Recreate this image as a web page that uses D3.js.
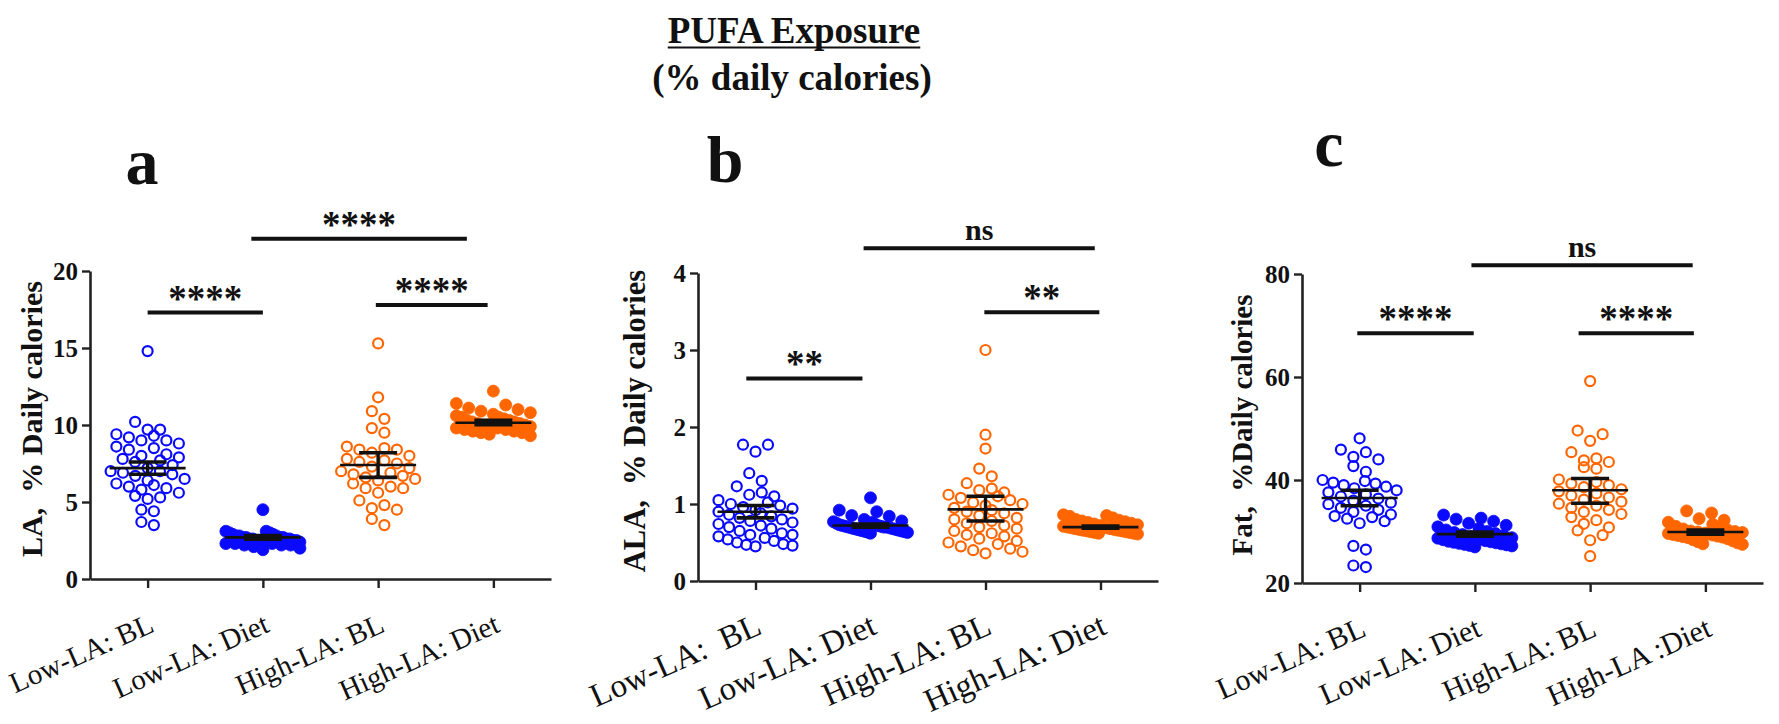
<!DOCTYPE html>
<html>
<head>
<meta charset="utf-8">
<script src="https://cdn.jsdelivr.net/npm/d3@7"></script>
<style>
  body { margin: 0; background: #fff; }
  svg text { font-family: "Liberation Serif", "Times New Roman", serif; fill: #111; }
</style>
</head>
<body>
<div id="chart"></div>
<script>
// ---- data ----
const groupsA = ["Low-LA: BL", "Low-LA: Diet", "High-LA: BL", "High-LA: Diet"];
const groupsB = ["Low-LA:  BL", "Low-LA: Diet", "High-LA: BL", "High-LA: Diet"];
const groupsC = ["Low-LA: BL", "Low-LA: Diet", "High-LA: BL", "High-LA :Diet"];

// LA, % daily calories
const laLowBL = [14.8, 10.2, 9.7, 9.7, 9.4, 9.3, 9.2, 9.0, 9.0, 8.8, 8.6, 8.5, 8.4, 8.1, 8.0, 7.9, 7.8, 7.7, 7.6, 7.4, 7.2,
  7.0, 7.0, 6.9, 6.8, 6.7, 6.5, 6.4, 6.2, 6.1, 6.0, 5.9, 5.8, 5.6, 5.4, 5.3, 5.2, 4.5, 4.4, 3.7, 3.5];
const laLowDiet = [4.5, 3.1, 3.1, 3.0, 3.0, 2.9, 2.9, 2.8, 2.8, 2.8, 2.7, 2.7, 2.7, 2.7, 2.6, 2.6, 2.6, 2.6, 2.5, 2.5,
  2.5, 2.4, 2.4, 2.4, 2.3, 2.3, 2.3, 2.2, 2.2, 2.2, 2.1, 2.0, 1.9];
const laHighBL = [15.3, 11.8, 10.9, 10.4, 9.8, 9.5, 8.6, 8.5, 8.4, 8.4, 8.2, 8.0, 7.8, 7.7, 7.6, 7.5, 7.3, 7.2, 7.0, 6.9,
  6.8, 6.7, 6.6, 6.5, 6.4, 6.2, 6.0, 5.9, 5.9, 5.6, 5.1, 4.8, 4.6, 4.5, 3.9, 3.5];
const laHighDiet = [12.2, 11.4, 11.3, 11.1, 11.0, 10.9, 10.8, 10.7, 10.6, 10.5, 10.5, 10.4, 10.3, 10.3, 10.2, 10.2, 10.1,
  10.1, 10.0, 10.0, 10.0, 9.9, 9.9, 9.8, 9.8, 9.7, 9.7, 9.6, 9.6, 9.5, 9.5, 9.4, 9.3];
const laMean = [7.2, 2.7, 7.4, 10.15];
const laLow = [6.8, 2.58, 6.6, 10.02];
const laHigh = [7.6, 2.82, 8.2, 10.3];

// ALA, % daily calories
const alaLowBL = [1.77, 1.77, 1.68, 1.4, 1.3, 1.23, 1.15, 1.12, 1.1, 1.05, 1.02, 1.0, 0.98, 0.96, 0.94, 0.92, 0.9, 0.88,
  0.86, 0.84, 0.82, 0.8, 0.78, 0.76, 0.74, 0.72, 0.7, 0.68, 0.65, 0.62, 0.6, 0.6, 0.58, 0.56, 0.54, 0.52, 0.5, 0.48, 0.47, 0.46, 0.45];
const alaLowDiet = [1.08, 0.92, 0.9, 0.85, 0.84, 0.8, 0.78, 0.77, 0.76, 0.75, 0.74, 0.73, 0.72, 0.72, 0.71, 0.71, 0.7,
  0.7, 0.7, 0.69, 0.69, 0.68, 0.68, 0.67, 0.67, 0.66, 0.66, 0.65, 0.65, 0.64, 0.64, 0.63, 0.63, 0.62];
const alaHighBL = [3.0, 1.9, 1.72, 1.46, 1.36, 1.27, 1.2, 1.18, 1.15, 1.12, 1.1, 1.08, 1.05, 1.02, 1.0, 0.98, 0.95, 0.92,
  0.9, 0.88, 0.85, 0.82, 0.8, 0.78, 0.75, 0.72, 0.7, 0.68, 0.65, 0.62, 0.6, 0.58, 0.55, 0.52, 0.5, 0.48, 0.45, 0.42, 0.4, 0.38, 0.36];
const alaHighDiet = [0.86, 0.85, 0.84, 0.82, 0.8, 0.79, 0.78, 0.77, 0.76, 0.75, 0.74, 0.73, 0.72, 0.71, 0.7, 0.7, 0.69,
  0.69, 0.68, 0.68, 0.67, 0.67, 0.66, 0.66, 0.65, 0.65, 0.64, 0.64, 0.63, 0.63, 0.62, 0.62, 0.61];
const alaMean = [0.9, 0.72, 0.93, 0.7];
const alaLow = [0.82, 0.7, 0.78, 0.685];
const alaHigh = [0.98, 0.74, 1.1, 0.715];

// Fat, % daily calories
const fatLowBL = [48.1, 45.9, 45.4, 44.5, 44.0, 42.7, 41.6, 40.0, 39.8, 39.5, 39.3, 39.0, 38.7, 38.4, 38.0, 37.6, 37.2,
  36.8, 36.4, 36.0, 35.6, 35.3, 35.0, 34.6, 34.2, 33.8, 33.3, 33.0, 32.8, 32.5, 32.0, 31.6, 27.2, 26.5, 23.4, 23.1];
const fatLowDiet = [33.2, 32.6, 32.4, 32.0, 31.6, 31.2, 30.9, 30.6, 30.3, 30.0, 29.8, 29.6, 29.4, 29.2, 29.0, 28.8, 28.7,
  28.5, 28.4, 28.2, 28.1, 28.0, 27.9, 27.8, 27.7, 27.6, 27.5, 27.4, 27.3, 27.2, 27.0];
const fatHighBL = [59.2, 49.6, 48.9, 47.6, 45.4, 44.2, 43.8, 43.5, 42.5, 42.2, 40.1, 39.6, 39.3, 39.0, 38.6, 38.2, 37.8,
  37.4, 37.0, 36.6, 36.2, 35.8, 35.4, 35.0, 34.6, 34.2, 33.8, 33.4, 32.8, 32.2, 31.5, 30.8, 30.2, 29.3, 28.3, 25.2];
const fatHighDiet = [34.0, 33.6, 32.5, 32.2, 31.8, 31.4, 31.0, 30.7, 30.5, 30.3, 30.1, 30.0, 29.9, 29.8, 29.7, 29.6, 29.5,
  29.4, 29.3, 29.2, 29.1, 29.0, 28.9, 28.8, 28.6, 28.4, 28.2, 28.0, 27.8, 27.6, 27.5];
const fatMean = [36.5, 29.5, 38.0, 29.9];
const fatLow = [35.0, 29.1, 35.5, 29.5];
const fatHigh = [38.0, 29.9, 40.3, 30.3];

const ticksA = [0, 5, 10, 15, 20];
const ticksB = [0, 1, 2, 3, 4];
const ticksC = [20, 40, 60, 80];

// brackets: [from group, to group, y value, label]
const bracketsA = [[0, 1, 17.3, "****"], [1.98, 2.95, 17.8, "****"], [0.9, 2.77, 22.1, "****"]];
const bracketsB = [[-0.08, 0.93, 2.63, "**"], [1.99, 2.99, 3.49, "**"], [0.94, 2.95, 4.32, "ns"]];
const bracketsC = [[-0.02, 0.99, 68.5, "****"], [1.9, 2.9, 68.5, "****"], [0.97, 2.89, 81.7, "ns"]];

const blue = "#0a0aff", orange = "#ff6600";
const fills = [null, blue, null, orange];
const strokes = [blue, blue, orange, orange];
const serif = "'Liberation Serif', 'Times New Roman', serif";

const W = 1779, H = 724;
const svg = d3.select("#chart").append("svg").attr("width", W).attr("height", H);

// title
const title = svg.append("text").attr("x", 794).attr("y", 43).attr("text-anchor", "middle")
  .style("font-size", "37px").style("font-weight", "bold").text("PUFA Exposure");
const tw = title.node().getComputedTextLength();
svg.append("line").attr("x1", 794 - tw / 2).attr("x2", 794 + tw / 2).attr("y1", 47.5).attr("y2", 47.5)
  .attr("stroke", "#111").attr("stroke-width", 2);
svg.append("text").attr("x", 792).attr("y", 90).attr("text-anchor", "middle")
  .style("font-size", "37px").style("font-weight", "bold").text("(% daily calories)");

// GraphPad-like column scatter: rows of close values spread side by side
function spread(vals, y, cx) {
  const pts = vals.map(v => ({ v: v, py: y(v) })).sort((a, b) => a.py - b.py);
  const rows = [];
  let cur = null;
  pts.forEach(p => {
    if (!cur || p.py - cur.start > 11) { cur = { start: p.py, items: [] }; rows.push(cur); }
    cur.items.push(p);
  });
  rows.forEach(r => {
    const n = r.items.length;
    const s = n > 1 ? Math.min(12.5, 74 / (n - 1)) : 0;
    // interleave so neighbouring values land on opposite sides
    const order = r.items.map((p, i) => i).sort((a, b) => (a % 2) - (b % 2) || a - b);
    order.forEach((idx, k) => { r.items[idx].px = cx + (k - (n - 1) / 2) * s; });
  });
  return pts;
}

function panel(cfg) {
  const g = svg.append("g");
  const x = d3.scalePoint().domain(d3.range(4)).range([cfg.x0, cfg.x1]).padding(0.5);
  const y = d3.scaleLinear().domain(cfg.domain).range([cfg.yBottom, cfg.yTop]);
  const step = x.step();
  const xf = i => x(0) + i * step;

  // points
  cfg.series.forEach((vals, i) => {
    const pts = spread(vals, y, x(i));
    g.append("g").selectAll("circle").data(pts).enter().append("circle")
      .attr("cx", d => d.px).attr("cy", d => d.py)
      .attr("r", fills[i] ? 6 : 5)
      .attr("fill", fills[i] || "none")
      .attr("stroke", strokes[i])
      .attr("stroke-width", fills[i] ? 0.8 : 2.2);
  });

  // mean line + 95% CI bars
  const stats = cfg.mean.map((m, i) => ({ i: i, m: m, lo: cfg.lo[i], hi: cfg.hi[i] }));
  g.selectAll(".mean").data(stats).enter().append("line")
    .attr("x1", d => x(d.i) - 38).attr("x2", d => x(d.i) + 38)
    .attr("y1", d => y(d.m)).attr("y2", d => y(d.m))
    .attr("stroke", "#111").attr("stroke-width", 2.6);
  g.selectAll(".ev").data(stats).enter().append("line")
    .attr("x1", d => x(d.i)).attr("x2", d => x(d.i))
    .attr("y1", d => y(d.lo)).attr("y2", d => y(d.hi))
    .attr("stroke", "#111").attr("stroke-width", 3.4);
  ["lo", "hi"].forEach(k => {
    g.selectAll(".cap" + k).data(stats).enter().append("line")
      .attr("x1", d => x(d.i) - 19).attr("x2", d => x(d.i) + 19)
      .attr("y1", d => y(d[k])).attr("y2", d => y(d[k]))
      .attr("stroke", "#111").attr("stroke-width", 3.6);
  });

  // axes
  const yAxis = g.append("g").attr("transform", `translate(${cfg.x0},0)`)
    .call(d3.axisLeft(y).tickValues(cfg.ticks).tickFormat(d3.format("d"))
      .tickSize(8).tickSizeOuter(0).tickPadding(4));
  const xAxis = g.append("g").attr("transform", `translate(0,${cfg.yBottom})`)
    .call(d3.axisBottom(x).tickSize(9).tickSizeOuter(0).tickFormat(""));
  [yAxis, xAxis].forEach(a => {
    a.attr("font-family", serif);
    a.select(".domain").attr("stroke", "#222").attr("stroke-width", 2.6);
    a.selectAll(".tick line").attr("stroke", "#222").attr("stroke-width", 2.4);
  });
  yAxis.selectAll(".tick text").style("font-size", "25px").style("font-weight", "bold")
    .style("font-family", serif).attr("fill", "#222");

  // rotated category labels
  g.selectAll(".xl").data(cfg.labels).enter().append("text")
    .attr("transform", (d, i) => `translate(${x(i) + 8},${cfg.yBottom + 52}) rotate(-24)`)
    .attr("text-anchor", "end")
    .style("font-family", serif)
    .style("font-size", cfg.xSize + "px")
    .style("white-space", "pre")
    .attr("fill", "#000")
    .text(d => d);

  // y label
  g.append("text")
    .attr("transform", `translate(${cfg.yl[0]},${cfg.yl[1]}) rotate(-90)`)
    .attr("text-anchor", "middle").attr("dy", "0.35em")
    .style("font-family", serif)
    .style("font-size", cfg.ySize + "px").style("font-weight", "bold").style("white-space", "pre")
    .text(cfg.ylabel);

  // panel letter
  g.append("text").attr("x", cfg.letter[0]).attr("y", cfg.letter[1]).attr("text-anchor", "middle")
    .style("font-family", serif)
    .style("font-size", "66px").style("font-weight", "bold").text(cfg.letter[2]);

  // significance brackets
  cfg.brackets.forEach(b => {
    const yy = y(b[2]);
    g.append("line").attr("x1", xf(b[0])).attr("x2", xf(b[1])).attr("y1", yy).attr("y2", yy)
      .attr("stroke", "#111").attr("stroke-width", 4);
    const ns = b[3] === "ns";
    g.append("text").attr("x", (xf(b[0]) + xf(b[1])) / 2).attr("y", ns ? yy - 8 : yy - 2)
      .attr("text-anchor", "middle")
      .style("font-family", serif)
      .style("font-size", ns ? "30px" : "37px").style("font-weight", "bold")
      .text(b[3]);
  });
}

panel({
  x0: 90, x1: 551, yBottom: 579, yTop: 271, domain: [0, 20], ticks: ticksA,
  series: [laLowBL, laLowDiet, laHighBL, laHighDiet], mean: laMean, lo: laLow, hi: laHigh,
  labels: groupsA, xSize: 29, ylabel: "LA,  % Daily calories", ySize: 30, yl: [31, 419],
  letter: [142, 184, "a"], brackets: bracketsA
});
panel({
  x0: 698, x1: 1158, yBottom: 581, yTop: 273, domain: [0, 4], ticks: ticksB,
  series: [alaLowBL, alaLowDiet, alaHighBL, alaHighDiet], mean: alaMean, lo: alaLow, hi: alaHigh,
  labels: groupsB, xSize: 33, ylabel: "ALA,  % Daily calories", ySize: 30.5, yl: [634, 421],
  letter: [725, 182, "b"], brackets: bracketsB
});
panel({
  x0: 1302, x1: 1763, yBottom: 583, yTop: 274, domain: [20, 80], ticks: ticksC,
  series: [fatLowBL, fatLowDiet, fatHighBL, fatHighDiet], mean: fatMean, lo: fatLow, hi: fatHigh,
  labels: groupsC, xSize: 30, ylabel: "Fat,  %Daily calories", ySize: 29, yl: [1242, 425],
  letter: [1329, 166, "c"], brackets: bracketsC
});
</script>
</body>
</html>
